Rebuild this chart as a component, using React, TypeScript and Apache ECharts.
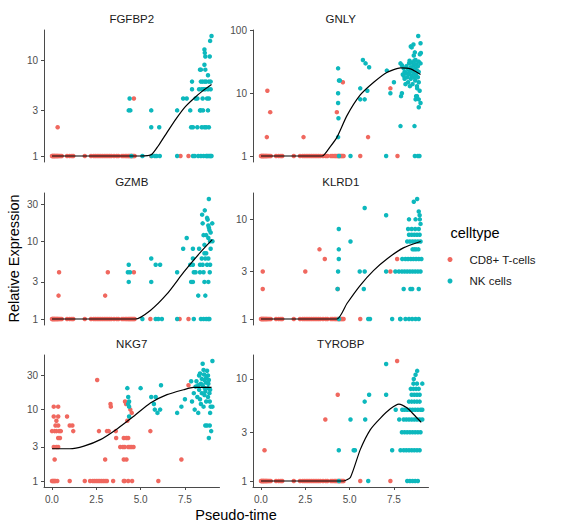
import React, { useEffect, useRef } from 'react';
import * as echarts from 'echarts';

const FONT = '"Liberation Sans", Arial, Helvetica, sans-serif';
const RED = '#F0685F';
const TEAL = '#0DB8BD';

const genes = ['FGFBP2', 'GNLY', 'GZMB', 'KLRD1', 'NKG7', 'TYROBP'];
const cellTypes = ['CD8+ T-cells', 'NK cells'];
const xTicks = [0, 2.5, 5, 7.5];
// y-axis breaks of each facet (free log scales)
const fgfbp2Ticks = [1, 3, 10];
const gnlyTicks = [1, 10, 100];
const gzmbTicks = [1, 3, 10, 30];
const klrd1Ticks = [1, 3, 10];
const nkg7Ticks = [1, 3, 10, 30];
const tyrobpTicks = [1, 3, 10];

// pseudo-time of CD8+ T-cells sitting at relative expression 1 (shared baseline)
const cd8Base = [0.0, 0.03, 0.06, 0.1, 0.13, 0.16, 0.2, 0.24, 0.28, 0.32, 0.36, 0.42, 0.48, 0.55, 0.85, 1.0, 1.12, 1.2, 1.85, 2.2, 2.35, 2.45, 2.55, 2.65, 2.75, 2.85, 2.95, 3.05, 3.15, 3.25, 3.35, 3.5, 3.65, 3.75, 3.95, 4.05, 4.15, 4.22, 4.3, 4.36, 4.42, 4.48, 4.54, 4.6, 4.66];

const fgfbp2Cd8 = [[0.32, 2], [4.62, 4], [5.6, 1], [7.25, 1], [7.7, 1]];
const fgfbp2Nk = [[4.38, 4], [4.33, 3], [4.42, 3], [4.48, 1], [5.1, 1], [5.6, 3], [5.6, 2], [5.62, 1], [5.8, 1], [5.9, 1], [6.05, 2], [6.08, 1], [7.06, 3], [7.06, 1], [7.4, 4], [7.6, 4], [7.8, 3], [7.85, 2], [7.9, 6], [7.9, 5], [7.95, 2], [7.95, 1], [8.05, 1], [8.1, 4], [8.2, 4], [8.2, 2], [8.25, 1], [8.3, 5], [8.35, 8], [8.35, 3], [8.4, 8], [8.4, 6], [8.45, 5], [8.4, 3], [8.45, 2], [8.4, 1], [8.5, 6], [8.5, 4], [8.52, 3], [8.55, 5], [8.55, 1], [8.6, 13], [8.62, 12], [8.65, 11], [8.6, 9], [8.65, 8], [8.62, 6], [8.7, 6], [8.65, 5], [8.6, 2], [8.7, 2], [8.7, 1], [8.75, 1], [8.75, 4], [8.8, 7], [8.85, 6], [8.8, 5], [8.85, 4], [8.8, 3], [8.85, 2], [8.82, 1], [8.9, 1], [8.92, 16], [8.9, 11], [8.95, 6], [8.95, 5], [8.95, 1], [9.0, 18], [9.0, 1]];
const fgfbp2Trend = [[0, 1], [1, 1], [2, 1], [3, 1], [4, 1], [5, 1], [5.6, 1.03], [6.0, 1.28], [6.5, 1.78], [7.0, 2.45], [7.5, 3.25], [8.0, 4.0], [8.5, 4.8], [9.0, 5.6]];

const gnlyCd8 = [[0.36, 11], [0.52, 5], [0.33, 2], [2.4, 2], [4.28, 5], [4.62, 15], [5.6, 1], [6.04, 2], [7.3, 12], [7.7, 1]];
const gnlyNk = [[4.35, 25], [4.4, 16], [4.45, 16], [4.35, 10], [4.35, 7], [4.37, 4], [4.35, 2], [4.4, 1], [5.05, 1], [5.6, 12], [5.6, 8], [5.75, 34], [5.9, 30], [5.85, 8], [6.0, 11], [6.1, 26], [7.06, 1], [7.1, 23], [7.3, 10], [7.5, 15], [7.87, 3], [7.87, 30], [7.95, 28], [7.9, 9], [7.95, 10], [8.05, 19], [8.1, 22], [8.38, 33], [8.45, 56], [8.5, 54], [8.6, 60], [8.62, 40], [8.68, 45], [8.72, 34], [8.87, 82], [8.96, 42], [9.0, 63], [9.02, 44], [8.9, 15], [8.81, 12], [8.72, 8], [8.75, 9], [8.9, 6], [9.0, 7], [8.66, 3], [8.68, 1], [8.85, 1], [8.94, 1], [8.0, 20], [8.05, 25], [8.1, 17], [8.15, 14], [8.2, 21], [8.2, 27], [8.25, 18], [8.3, 24], [8.3, 15], [8.35, 30], [8.35, 20], [8.4, 13], [8.4, 22], [8.45, 26], [8.45, 17], [8.5, 31], [8.5, 19], [8.55, 24], [8.55, 14], [8.6, 28], [8.6, 21], [8.65, 18], [8.65, 33], [8.7, 25], [8.7, 16], [8.75, 29], [8.75, 20], [8.8, 23], [8.8, 13], [8.85, 27], [8.85, 18], [8.9, 32], [8.9, 22], [8.95, 11], [9.0, 30], [8.8, 9], [8.9, 8]];
const gnlyTrend = [[0, 1], [1.5, 1], [3.45, 1], [3.9, 1.4], [4.29, 2.0], [4.85, 4.4], [5.6, 9.4], [6.36, 15], [7.12, 21.7], [7.87, 25.4], [8.43, 24.5], [9.0, 20]];

const gzmbCd8 = [[0.4, 4], [0.37, 2], [3.0, 2], [3.15, 4], [4.62, 4], [5.55, 1], [7.2, 1], [7.7, 1]];
const gzmbNk = [[4.28, 4], [4.33, 5], [4.4, 4], [4.33, 3], [5.1, 1], [5.6, 6], [5.6, 3], [5.85, 5], [5.85, 1], [6.0, 1], [6.1, 5], [6.2, 1], [7.06, 4], [7.06, 1], [7.4, 8], [7.6, 11], [7.8, 5], [7.85, 3], [7.95, 8], [7.95, 6], [7.95, 5], [8.0, 4], [7.95, 3], [8.0, 1], [8.1, 4], [8.25, 2], [8.3, 8], [8.35, 5], [8.35, 4], [8.4, 1], [8.47, 22], [8.5, 17], [8.55, 12], [8.6, 9], [8.6, 7], [8.55, 4], [8.6, 3], [8.65, 2], [8.55, 1], [8.7, 1], [8.75, 20], [8.78, 19], [8.82, 16], [8.85, 15], [8.88, 14], [8.82, 11], [8.92, 10], [8.95, 8], [8.82, 6], [8.92, 5], [8.9, 4], [8.82, 3], [8.82, 1], [8.88, 1], [9.04, 17], [9.05, 10], [8.85, 35], [8.7, 7], [8.75, 5], [8.65, 6], [8.45, 6], [8.5, 5], [8.95, 13], [8.7, 12], [8.62, 25]];
const gzmbTrend = [[0, 1], [2, 1], [4.7, 1], [5.55, 1.29], [6.49, 2.1], [7.43, 4.0], [8.37, 7.2], [9.04, 10.5]];

const klrd1Cd8 = [[0.1, 3], [0.1, 2], [2.5, 3], [3.3, 5], [3.6, 4], [4.33, 2], [5.6, 1], [7.3, 3], [7.68, 4]];
const klrd1Nk = [[4.39, 8], [4.39, 5], [4.39, 4], [4.35, 3], [4.32, 2], [4.4, 1], [5.05, 6], [5.57, 3], [5.85, 13], [5.85, 3], [5.8, 2], [6.05, 1], [6.15, 1], [7.06, 11], [7.06, 3], [7.4, 1], [7.85, 1], [7.58, 3], [7.78, 3], [7.95, 3], [8.1, 3], [8.25, 3], [8.4, 3], [8.55, 3], [8.7, 3], [8.85, 3], [9.0, 3], [7.97, 4], [8.15, 4], [8.3, 4], [8.45, 4], [8.6, 4], [8.75, 4], [8.9, 4], [9.05, 4], [8.55, 5], [8.65, 5], [8.75, 5], [8.88, 5], [8.25, 6], [8.4, 6], [8.55, 6], [8.7, 6], [8.85, 6], [9.0, 6], [8.35, 7], [8.5, 7], [8.65, 7], [8.8, 7], [8.95, 7], [8.3, 8], [8.5, 8], [8.7, 8], [8.9, 8], [9.0, 9], [8.35, 10], [8.72, 10], [8.96, 10], [8.95, 11], [8.9, 12], [8.62, 15], [8.81, 16], [8.05, 2], [8.43, 2], [8.53, 2], [8.9, 2], [7.87, 1], [8.15, 1], [8.35, 1], [8.53, 1], [8.72, 1], [8.9, 1]];
const klrd1Trend = [[0, 1], [2, 1], [4.29, 1], [4.85, 1.43], [5.6, 2.18], [6.36, 3.08], [7.12, 4.03], [8.06, 5.2], [9.0, 6.0]];

const nkg7Cd8 = [[0.0, 1], [0.05, 1], [0.1, 1], [0.15, 1], [0.2, 1], [0.3, 1], [0.15, 2], [0.1, 3], [0.25, 3], [0.35, 3], [0.35, 4], [0.45, 4], [0.0, 5], [0.15, 5], [0.25, 5], [0.4, 5], [0.5, 5], [0.2, 6], [0.35, 6], [0.25, 7], [0.1, 8], [0.35, 8], [0.1, 11], [0.35, 11], [0.85, 8], [1.0, 1], [1.0, 6], [1.15, 6], [1.2, 5], [1.85, 1], [2.15, 1], [2.3, 1], [2.4, 1], [2.5, 1], [2.55, 26], [2.6, 1], [2.7, 1], [2.65, 5], [2.8, 1], [2.9, 1], [3.0, 1], [3.1, 1], [3.0, 2], [3.1, 5], [3.2, 5], [3.3, 12], [3.32, 11], [3.45, 1], [3.6, 5], [3.62, 4], [3.85, 3], [4.0, 3], [4.05, 2], [4.05, 1], [4.05, 4], [4.1, 3], [4.1, 1], [4.12, 13], [4.2, 4], [4.2, 2], [4.18, 12], [4.3, 4], [4.3, 3], [4.3, 1], [4.4, 3], [4.42, 10], [4.5, 9], [4.5, 3], [4.52, 1], [4.6, 3], [4.25, 7], [5.55, 5], [6.0, 1], [7.3, 2], [7.7, 22]];
const nkg7Nk = [[4.25, 20], [4.3, 15], [4.35, 13], [4.3, 12], [4.35, 11], [4.35, 8], [5.0, 20], [5.6, 15], [5.75, 12], [5.85, 15], [5.8, 10], [5.95, 9], [6.1, 10], [6.15, 22], [7.06, 9], [7.3, 11], [7.5, 14], [7.85, 25], [7.9, 13], [8.0, 17], [8.05, 10], [8.1, 21], [8.15, 25], [8.2, 15], [8.25, 9], [8.3, 30], [8.35, 32], [8.4, 23], [8.45, 17], [8.5, 44], [8.55, 36], [8.6, 26], [8.62, 20], [8.65, 18], [8.7, 13], [8.75, 35], [8.8, 30], [8.82, 23], [8.88, 17], [8.9, 13], [8.92, 9], [8.95, 11], [8.65, 6], [8.75, 6], [8.9, 6], [8.85, 4], [8.98, 5], [9.05, 48], [9.05, 11], [8.4, 12], [8.55, 11], [8.3, 19], [8.7, 28], [8.5, 22], [8.6, 16], [8.8, 20], [8.45, 27], [8.68, 24], [8.92, 19], [8.35, 14], [8.25, 22], [8.8, 15], [8.58, 31], [8.85, 26]];
const nkg7Trend = [[0, 2.83], [1, 2.83], [1.8, 3.08], [2.73, 3.8], [3.67, 5.37], [4.61, 8.06], [5.55, 12.4], [6.49, 16.2], [7.43, 19], [7.98, 20.5], [9.0, 20.5]];

const tyrobpCd8 = [[0.2, 2], [3.63, 4], [4.33, 7], [5.6, 1], [7.3, 1], [7.68, 15]];
const tyrobpNk = [[4.39, 2], [4.4, 1], [5.05, 4], [5.23, 2], [5.3, 2], [5.85, 6], [5.88, 4], [6.05, 1], [6.1, 7], [7.06, 14], [7.06, 7], [7.4, 2], [7.6, 5], [7.8, 4], [8.25, 1], [8.4, 1], [8.55, 1], [8.7, 1], [8.85, 1], [7.87, 2], [8.05, 2], [8.2, 2], [8.35, 2], [8.5, 2], [8.65, 2], [8.8, 2], [8.95, 2], [7.95, 3], [8.1, 3], [8.25, 3], [8.4, 3], [8.55, 3], [8.7, 3], [8.85, 3], [9.0, 3], [8.05, 4], [8.2, 4], [8.35, 4], [8.5, 4], [8.65, 4], [8.8, 4], [8.95, 4], [9.1, 4], [7.97, 5], [8.1, 5], [8.25, 5], [8.4, 5], [8.55, 5], [8.7, 5], [8.85, 5], [9.0, 5], [9.1, 5], [8.35, 6], [8.5, 6], [8.65, 6], [8.8, 6], [8.95, 6], [8.5, 7], [8.65, 7], [8.8, 7], [8.95, 7], [8.45, 8], [8.6, 8], [8.75, 8], [8.9, 8], [8.6, 9], [8.8, 9], [9.1, 9], [8.62, 10], [8.72, 11], [8.81, 12]];
const tyrobpTrend = [[0, 1], [2, 1], [4.67, 1], [5.05, 1.09], [5.6, 2.03], [6.17, 3.19], [6.74, 4.14], [7.3, 5.1], [7.78, 5.67], [8.25, 5.18], [8.63, 4.46], [9.04, 3.76]];

const baseline = cd8Base.map((x) => [x, 1]);
const cd8ByGene = [
  [...baseline, ...fgfbp2Cd8],
  [...baseline, ...gnlyCd8],
  [...baseline, ...gzmbCd8],
  [...baseline, ...klrd1Cd8],
  nkg7Cd8,
  [...baseline, ...tyrobpCd8],
];
const nkByGene = [fgfbp2Nk, gnlyNk, gzmbNk, klrd1Nk, nkg7Nk, tyrobpNk];
const trendByGene = [fgfbp2Trend, gnlyTrend, gzmbTrend, klrd1Trend, nkg7Trend, tyrobpTrend];
const ticksByGene = [fgfbp2Ticks, gnlyTicks, gzmbTicks, klrd1Ticks, nkg7Ticks, tyrobpTicks];

function buildOption() {
  const colLeft = [44, 253];
  const rowTop = [30, 193, 355];
  const PW = 175.5;
  const PH = 132;
  const axisColor = '#4a4a4a';
  const labelColor = '#4d4d4d';
  const grids: any[] = [];
  const xAxes: any[] = [];
  const yAxes: any[] = [];
  const series: any[] = [];
  const graphics: any[] = [];

  genes.forEach((gene, i) => {
    const col = i % 2;
    const row = Math.floor(i / 2);
    const left = colLeft[col];
    const top = rowTop[row];
    const isBottom = row === 2;
    grids.push({ left, top, width: PW, height: PH, containLabel: false, outerBoundsMode: 'none' });

    xAxes.push({
      type: 'value',
      gridIndex: i,
      min: -0.45,
      max: 9.45,
      axisLine: { show: isBottom, onZero: false, lineStyle: { color: axisColor, width: 1 } },
      axisTick: { show: isBottom, length: 3, customValues: xTicks, lineStyle: { color: axisColor, width: 1 } },
      axisLabel: {
        show: isBottom,
        customValues: xTicks,
        formatter: (v: number) => v.toFixed(1),
        margin: 7,
        fontSize: 10,
        fontFamily: FONT,
        color: labelColor,
      },
      splitLine: { show: false },
    });

    const ys = [...cd8ByGene[i], ...nkByGene[i]].map((d) => d[1]);
    const lmax = Math.log10(Math.max(...ys));
    const pad = 0.05 * lmax;
    const yMin = Math.pow(10, -pad);
    const yMax = Math.pow(10, lmax + pad);
    const ticks = ticksByGene[i].filter((t) => t >= yMin && t <= yMax);
    yAxes.push({
      type: 'log',
      logBase: 10,
      gridIndex: i,
      min: yMin,
      max: yMax,
      axisLine: { show: true, onZero: false, lineStyle: { color: axisColor, width: 1 } },
      axisTick: { show: true, length: 3, customValues: ticks, lineStyle: { color: axisColor, width: 1 } },
      axisLabel: {
        customValues: ticks,
        formatter: (v: number) => String(Math.round(v)),
        margin: 6,
        fontSize: 10,
        fontFamily: FONT,
        color: labelColor,
      },
      splitLine: { show: false },
      minorTick: { show: false },
      minorSplitLine: { show: false },
    });

    series.push({
      type: 'scatter',
      name: cellTypes[0],
      xAxisIndex: i,
      yAxisIndex: i,
      data: cd8ByGene[i],
      symbol: 'circle',
      symbolSize: 4.5,
      itemStyle: { color: RED, opacity: 1 },
      z: 2,
      silent: true,
    });
    series.push({
      type: 'scatter',
      name: cellTypes[1],
      xAxisIndex: i,
      yAxisIndex: i,
      data: nkByGene[i],
      symbol: 'circle',
      symbolSize: 4.5,
      itemStyle: { color: TEAL, opacity: 1 },
      z: 3,
      silent: true,
    });
    series.push({
      type: 'line',
      name: gene + ' trend',
      xAxisIndex: i,
      yAxisIndex: i,
      data: trendByGene[i],
      smooth: 0.2,
      showSymbol: false,
      symbol: 'none',
      lineStyle: { color: '#000', width: 1.2 },
      z: 4,
      silent: true,
    });

    graphics.push({
      type: 'text',
      x: left + PW / 2,
      y: top - 11,
      style: {
        text: gene,
        fontSize: 11.5,
        fontFamily: FONT,
        fill: '#1a1a1a',
        align: 'center',
        verticalAlign: 'middle',
      },
    });
  });

  graphics.push({
    type: 'text',
    x: 13.5,
    y: 258.5,
    rotation: Math.PI / 2,
    style: {
      text: 'Relative Expression',
      fontSize: 14.5,
      fontFamily: FONT,
      fill: '#000',
      align: 'center',
      verticalAlign: 'middle',
    },
  });
  graphics.push({
    type: 'text',
    x: 236,
    y: 515,
    style: {
      text: 'Pseudo-time',
      fontSize: 14.5,
      fontFamily: FONT,
      fill: '#000',
      align: 'center',
      verticalAlign: 'middle',
    },
  });
  graphics.push({
    type: 'text',
    x: 450.5,
    y: 233,
    style: {
      text: 'celltype',
      fontSize: 14.5,
      fontFamily: FONT,
      fill: '#000',
      align: 'left',
      verticalAlign: 'middle',
    },
  });

  return {
    animation: false,
    backgroundColor: '#ffffff',
    grid: grids,
    xAxis: xAxes,
    yAxis: yAxes,
    series,
    legend: {
      data: cellTypes,
      orient: 'vertical',
      left: 447.5,
      top: 253.5,
      itemWidth: 29,
      itemHeight: 5,
      itemGap: 9.5,
      icon: 'circle',
      padding: 0,
      selectedMode: false,
      textStyle: { fontSize: 11.5, fontFamily: FONT, color: '#1a1a1a' },
    },
    graphic: { elements: graphics },
  };
}

export default function App() {
  const ref = useRef<HTMLDivElement>(null);
  useEffect(() => {
    if (!ref.current) return;
    const chart = echarts.init(ref.current, null, { renderer: 'svg' });
    chart.setOption(buildOption() as any);
    return () => chart.dispose();
  }, []);
  return (
    <div
      ref={ref}
      style={{ position: 'fixed', left: 0, top: 0, width: 564, height: 530, background: '#fff' }}
    />
  );
}
